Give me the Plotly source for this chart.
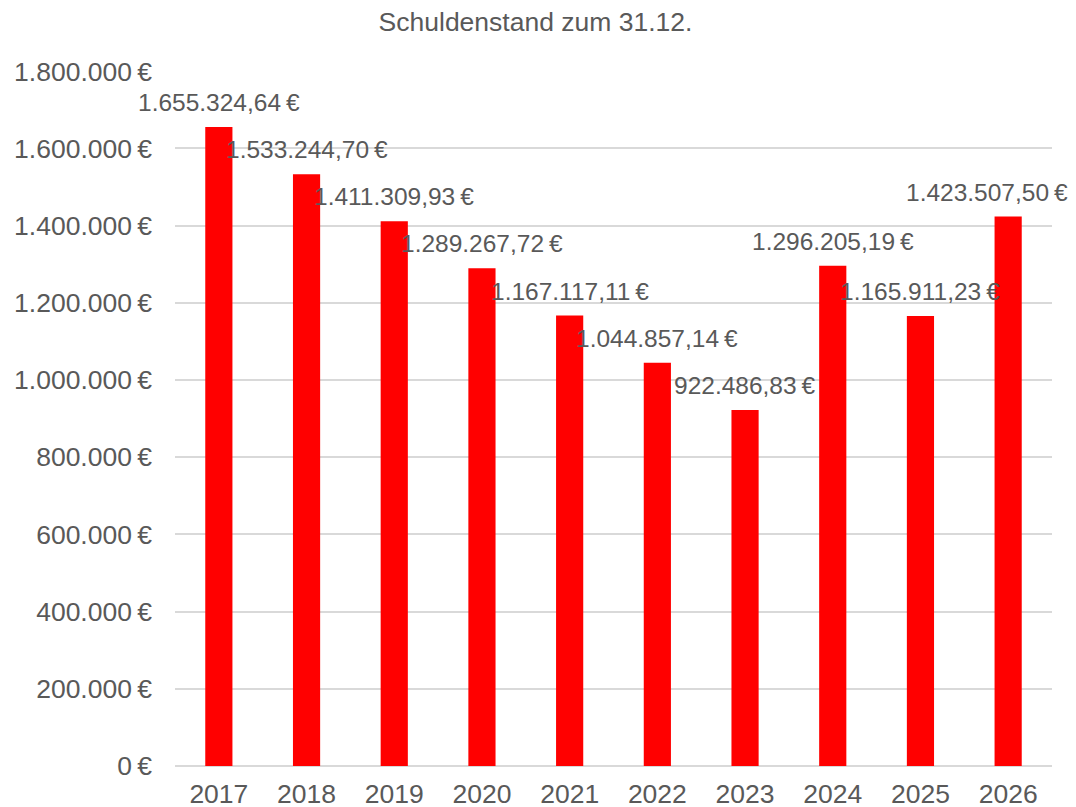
import plotly.graph_objects as go

years = ["2017", "2018", "2019", "2020", "2021", "2022", "2023", "2024", "2025", "2026"]
debt = [1655324.64, 1533244.70, 1411309.93, 1289267.72, 1167117.11,
        1044857.14, 922486.83, 1296205.19, 1165911.23, 1423507.50]
y_ticks = [0, 200000, 400000, 600000, 800000, 1000000, 1200000, 1400000, 1600000, 1800000]


def de_fmt(v, dec=2):
    s = f"{v:,.{dec}f}"
    s = s.replace(",", "X").replace(".", ",").replace("X", ".")
    return s + "\u202f€"


FONT = "Liberation Sans, Arial, sans-serif"
GREY = "#595959"
W, H = 1068, 799  # page body has an 8px default margin

fig = go.Figure()
fig.add_trace(go.Bar(x=years, y=debt, marker=dict(color="#ff0000", line=dict(width=0)),
                     hoverinfo="x+y"))

for i, v in enumerate(debt):
    # the last label is nudged left so it stays inside the chart, as in the original
    fig.add_annotation(x=i, y=v, xref="x", yref="y", text=de_fmt(v), showarrow=False,
                       yanchor="bottom", yshift=9, xshift=-21 if i == len(debt) - 1 else 0,
                       font=dict(family=FONT, size=24.5, color=GREY))

fig.update_layout(
    width=W, height=H,
    paper_bgcolor="white", plot_bgcolor="white",
    margin=dict(l=167, r=24, t=63, b=41, autoexpand=False),
    bargap=0.69,
    showlegend=False,
    separators=",.",
    title=dict(text="Schuldenstand zum 31.12.", x=527.5 / W, xref="container", xanchor="center",
               y=1 - 14 / H, yref="container", yanchor="middle",
               font=dict(family=FONT, size=26.5, color=GREY)),
    font=dict(family=FONT, size=26.5, color=GREY),
)
fig.update_yaxes(range=[0, 1800600], tickvals=y_ticks,
                 ticktext=[de_fmt(t, 0) for t in y_ticks],
                 showgrid=True, gridcolor="#d9d9d9", gridwidth=1.5,
                 zeroline=True, zerolinecolor="#d9d9d9", zerolinewidth=1.5,
                 showline=False, ticks="", ticklabelstandoff=22, automargin=False,
                 tickfont=dict(family=FONT, size=26.5, color=GREY))
fig.update_xaxes(type="category", range=[-0.5, 9.5], showline=False, ticks="",
                 showgrid=False, automargin=False, ticklabelstandoff=9,
                 tickfont=dict(family=FONT, size=26.5, color=GREY))

fig.write_html("out.html")
